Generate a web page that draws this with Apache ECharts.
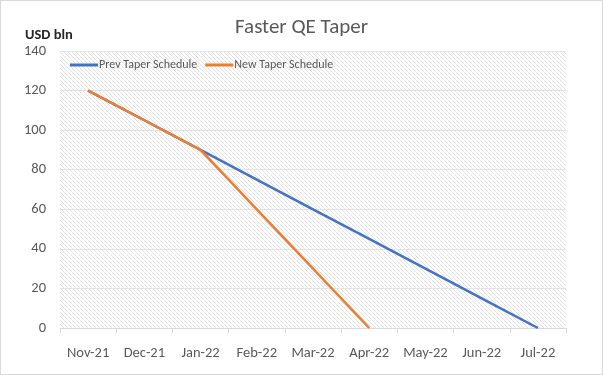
<!DOCTYPE html>
<html>
<head>
<meta charset="utf-8">
<script src="https://cdn.jsdelivr.net/npm/echarts@6/dist/echarts.min.js"></script>
<style>
  html, body { margin: 0; padding: 0; background: #fff; }
  #chart { width: 601px; height: 373px; border: 1px solid #d9d9d9; }
</style>
</head>
<body>
<div id="chart"></div>
<script>
  var months = ['Nov-21', 'Dec-21', 'Jan-22', 'Feb-22', 'Mar-22', 'Apr-22', 'May-22', 'Jun-22', 'Jul-22'];
  var prevTaper = [120, 105, 90, 75, 60, 45, 30, 15, 0];
  var newTaper = [120, 105, 90, 60, 30, 0, null, null, null];
  var yTicks = [0, 20, 40, 60, 80, 100, 120, 140];

  // diagonal hatch for the plot area
  function hatch() {
    var c = document.createElement('canvas');
    c.width = 4; c.height = 4;
    var ctx = c.getContext('2d');
    ctx.fillStyle = '#ffffff';
    ctx.fillRect(0, 0, 4, 4);
    ctx.strokeStyle = '#e2e2e2';
    ctx.lineWidth = 1;
    ctx.beginPath();
    ctx.moveTo(0, 0); ctx.lineTo(4, 4);
    ctx.moveTo(-2, 2); ctx.lineTo(2, 6);
    ctx.moveTo(2, -2); ctx.lineTo(6, 2);
    ctx.stroke();
    return c;
  }

  var chart = echarts.init(document.getElementById('chart'));
  var font = 'Calibri, Carlito, "Liberation Sans", "Open Sans", sans-serif';

  chart.setOption({
    animation: false,
    textStyle: { fontFamily: font },
    title: {
      text: 'Faster QE Taper',
      left: 'center',
      top: 11,
      textStyle: { fontSize: 21, fontWeight: 'normal', color: '#595959', fontFamily: font }
    },
    graphic: [{
      type: 'text',
      left: 24,
      top: 27,
      style: { text: 'USD bln', fontSize: 14.5, fontWeight: 'bold', fill: '#262626', fontFamily: font }
    }],
    legend: {
      left: 64,
      top: 53,
      itemWidth: 28,
      itemHeight: 3,
      itemGap: 8,
      icon: 'rect',
      textStyle: { fontSize: 12, color: '#595959', padding: [0, 0, 0, -4] },
      data: ['Prev Taper Schedule', 'New Taper Schedule']
    },
    grid: {
      left: 59,
      right: 36,
      top: 50,
      bottom: 46,
      show: true,
      borderWidth: 0,
      backgroundColor: { image: hatch(), repeat: 'repeat' }
    },
    xAxis: {
      type: 'category',
      data: months,
      boundaryGap: true,
      axisLine: { lineStyle: { color: '#d9d9d9' } },
      axisTick: { show: true, interval: 0, length: 5, lineStyle: { color: '#d9d9d9' } },
      axisLabel: { interval: 0, color: '#595959', fontSize: 14.5, margin: 18 }
    },
    yAxis: {
      type: 'value',
      min: yTicks[0],
      max: yTicks[yTicks.length - 1],
      interval: 20,
      axisLine: { show: false },
      axisTick: { show: false },
      axisLabel: { color: '#595959', fontSize: 14.5, margin: 14 },
      splitLine: { lineStyle: { color: '#e3e3e3', width: 1 } }
    },
    series: [
      {
        name: 'Prev Taper Schedule',
        type: 'line',
        data: prevTaper,
        symbol: 'none',
        color: '#4472c4',
        lineStyle: { width: 2.5, color: '#4472c4' }
      },
      {
        name: 'New Taper Schedule',
        type: 'line',
        data: newTaper,
        symbol: 'none',
        color: '#ed7d31',
        lineStyle: { width: 2.5, color: '#ed7d31' }
      }
    ]
  });
</script>
</body>
</html>
